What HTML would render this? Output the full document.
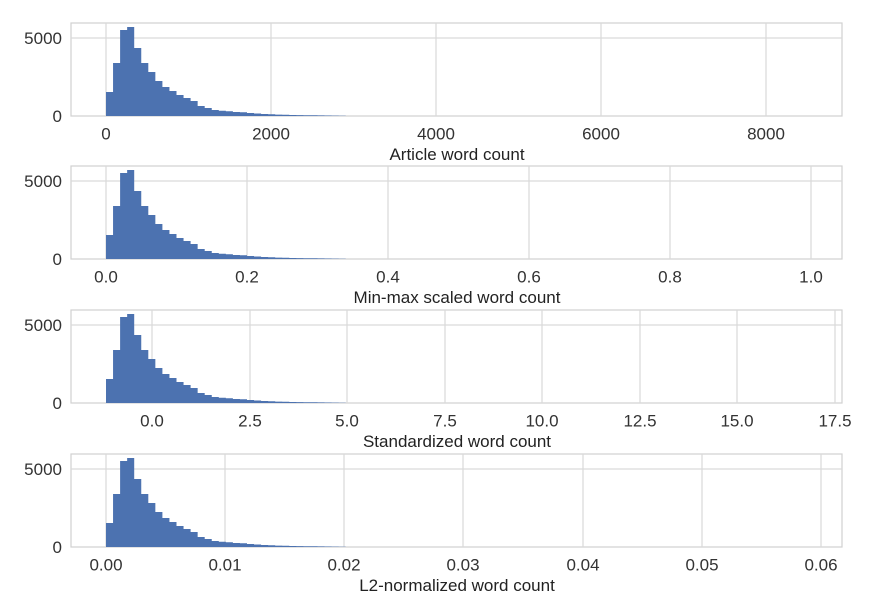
<!DOCTYPE html>
<html><head><meta charset="utf-8"><style>
html,body{margin:0;padding:0;background:#fff;}
svg{display:block;font-family:"Liberation Sans",sans-serif;}
</style></head><body>
<svg id="s" width="888" height="615" xmlns="http://www.w3.org/2000/svg"></svg>
<script>
var s=document.getElementById('s');
var H=[24,53,86,89,68,53,44,35,29,25,21,18,15,10,8,6,5.3,4.7,4,3.7,3,2.5,2,1.7,1.4,1.2,1,0.9,0.8,0.7,0.6,0.5,0.4,0.3];
var panels=[
 {top:23,bot:116,ticks:[[106,'0'],[271,'2000'],[436,'4000'],[601,'6000'],[766,'8000']],label:'Article word count'},
 {top:166,bot:259,ticks:[[106,'0.0'],[247,'0.2'],[388,'0.4'],[529,'0.6'],[670,'0.8'],[811,'1.0']],label:'Min-max scaled word count'},
 {top:310,bot:403,ticks:[[152,'0.0'],[250,'2.5'],[347,'5.0'],[445,'7.5'],[542,'10.0'],[640,'12.5'],[737,'15.0'],[835,'17.5']],label:'Standardized word count'},
 {top:454,bot:547,ticks:[[106,'0.00'],[225,'0.01'],[344,'0.02'],[463,'0.03'],[583,'0.04'],[702,'0.05'],[821,'0.06']],label:'L2-normalized word count'}
];
var o='';
panels.forEach(function(p){
 var L=71,R=842,g=p.bot-78;
 o+='<rect x="'+L+'" y="'+p.top+'" width="'+(R-L)+'" height="'+(p.bot-p.top)+'" fill="#fff" stroke="#d0d0d0" stroke-width="1.2"/>';
 o+='<line x1="'+L+'" x2="'+R+'" y1="'+g+'" y2="'+g+'" stroke="#d9d9d9" stroke-width="1.2"/>';
 p.ticks.forEach(function(t){o+='<line x1="'+t[0]+'" x2="'+t[0]+'" y1="'+p.top+'" y2="'+p.bot+'" stroke="#d9d9d9" stroke-width="1.2"/>';
  o+='<text x="'+t[0]+'" y="'+(p.bot+23.5)+'" font-size="17" fill="#333" text-anchor="middle">'+t[1]+'</text>';});
 var d='M106 '+p.bot;
 for(var i=0;i<H.length;i++){var x=106+i*7.05;d+=' L'+x.toFixed(2)+' '+(p.bot-H[i]).toFixed(2)+' L'+(x+7.05).toFixed(2)+' '+(p.bot-H[i]).toFixed(2);}
 d+=' L'+(106+H.length*7.05).toFixed(2)+' '+p.bot+' Z';
 o+='<path d="'+d+'" fill="#4c72b0"/>';
 o+='<text x="62" y="'+(g+6)+'" font-size="17" fill="#333" text-anchor="end">5000</text>';
 o+='<text x="62" y="'+(p.bot+6)+'" font-size="17" fill="#333" text-anchor="end">0</text>';
 o+='<text x="457" y="'+(p.bot+44)+'" font-size="17" fill="#222" text-anchor="middle">'+p.label+'</text>';
});
s.innerHTML=o;
</script>
</body></html>
